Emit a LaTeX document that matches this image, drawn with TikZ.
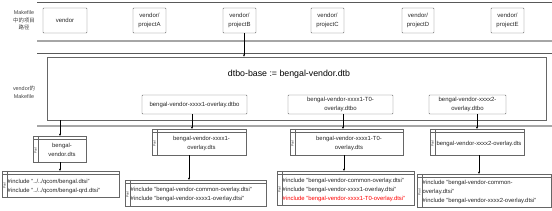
\documentclass[tikz,border=0pt]{standalone}
\usepackage{fontspec}
\setmainfont{Liberation Sans}
\newfontfamily\cjk{Noto Sans CJK SC}
\usetikzlibrary{calc,arrows.meta}
\tikzset{
  sep/.style={draw=black!65, line width=0.6pt},
  sepl/.style={draw=black!35, line width=1.2pt},
  boxn/.style={draw=black!60, line width=0.45pt, rounded corners=0.8pt, inner sep=0pt, font=\fontsize{6}{8.5}\selectfont, align=center, text=black!85},
  lanebox/.style={draw=black!60, line width=0.45pt, inner sep=0pt, anchor=north west},
  conn/.style={draw=black, line width=0.5pt, -{Triangle[length=2.2pt,width=2pt]}},
  lbl/.style={font=\fontsize{5.4}{7.5}\selectfont, align=center, text=black!75},
  txt/.style={font=\fontsize{5.9}{9}\selectfont, inner sep=0pt, text=black!85}
}
\newcommand\mkbox[6]{% name, x1, y1, x2, y2, text
  \node[boxn, minimum width={(#4-#2)*1pt}, minimum height={(#5-#3)*1pt}] (#1) at ({(#2+#4)/2},{(#3+#5)/2}) {#6};}
\newcommand\mklane[5]{% name, x1, y1, x2, y2
  \node[lanebox, minimum width={(#4-#2)*1pt}, minimum height={(#5-#3)*1pt}] (#1) at (#2,#3) {};
  \draw[black!60, line width=0.4pt] ([xshift=5pt]#1.north west) -- ([xshift=5pt]#1.south west);
  \draw[black!60, line width=0.4pt] ([yshift=-3pt]#1.north west) -- ([yshift=-3pt]#1.north east);
  \node[rotate=90, inner sep=0pt, font=\fontsize{3.2}{3.2}\selectfont, text=black!80] at ($(#1.west)+(2.5pt,-1.5pt)$) {Pool};}
\begin{document}
\begin{tikzpicture}[x=1pt,y=-1pt]
\useasboundingbox (0,0) rectangle (552,211);
% separators
\draw[sep] (37,2) coordinate (s1a) -- (552,2) coordinate (s1b);
\draw[sepl] (37,41) coordinate (s2a) -- (552,41) coordinate (s2b);
\draw[sep] (37,53) coordinate (s3a) -- (552,53) coordinate (s3b);
\draw[sepl] (37,126) coordinate (s4a) -- (552,126) coordinate (s4b);
% left labels
\node[lbl] (lab1) at (24,20.5) {Makefile\\{\cjk 中的项目}\\{\cjk 路径}};
\node[lbl] (lab2) at (24,92) {vendor{\cjk 的}\\Makefile};
% top row
\mkbox{v}{43}{8}{87}{33}{vendor}
\mkbox{pa}{133}{8}{166}{33}{vendor/\\projectA}
\mkbox{pb}{223}{8}{256}{33}{vendor/\\projectB}
\mkbox{pc}{311}{8}{344}{33}{vendor/\\projectC}
\mkbox{pd}{402}{8}{434}{33}{vendor/\\projectD}
\mkbox{pe}{491}{8}{524}{33}{vendor/\\projectE}
% big makefile box
\node[draw=black!60, line width=0.45pt, inner sep=0pt, minimum width=499pt, minimum height=63pt] (big) at (296.5,88.5) {};
\node[font=\fontsize{8.8}{10}\selectfont, inner sep=0pt] (title) at (289,74) {dtbo-base := bengal-vendor.dtb};
\mkbox{d1}{142}{95}{247}{114}{bengal-vendor-xxxx1-overlay.dtbo}
\mkbox{d2}{288}{95}{393}{114}{bengal-vendor-xxxx1-T0-\\[0.5pt]overlay.dtbo}
\mkbox{d3}{429}{95}{506}{114}{bengal-vendor-xxxx2-\\[0.5pt]overlay.dtbo}
% dts lanes
\mklane{s0}{33}{136}{86}{162}
\node[txt, align=center] (s0t) at (62,150) {bengal-\\vendor.dts};
\mklane{s1}{152}{129}{246}{155}
\node[txt, align=center] (s1t) at (201.5,143.5) {bengal-vendor-xxxx1-\\overlay.dts};
\mklane{s2}{290}{129}{403}{155}
\node[txt, align=center] (s2t) at (349,143.5) {bengal-vendor-xxxx1-T0-\\overlay.dts};
\mklane{s3}{430}{129}{524}{155}
\node[txt, align=center] (s3t) at (479,143.5) {bengal-vendor-xxxx2-overlay.dts};
% include lanes
\mklane{i0}{2}{171}{119}{197}
\node[txt, align=left, anchor=west] (i0t) at (7.5,186) {\#include "../../qcom/bengal.dtsi"\\\#include "../../qcom/bengal-qrd.dtsi"};
\mklane{i1}{125}{180}{266}{206}
\node[txt, align=left, anchor=west] (i1t) at (130.5,194) {\#include "bengal-vendor-common-overlay.dtsi"\\\#include "bengal-vendor-xxxx1-overlay.dtsi"};
\mklane{i2}{277}{171}{414}{205}
\node[txt, align=left, anchor=west] (i2t) at (282.5,190) {\#include "bengal-vendor-common-overlay.dtsi"\\\#include "bengal-vendor-xxxx1-overlay.dtsi"\\\textcolor{red}{\#include "bengal-vendor-xxxx1-T0-overlay.dtsi"}};
\mklane{i3}{417}{174}{551}{207}
\node[txt, align=left, anchor=west] (i3t) at (422.5,192) {\#include "bengal-vendor-common-\\overlay.dtsi"\\\#include "bengal-vendor-xxxx2-overlay.dtsi"};
% connectors
\draw[conn] ([xshift=4.5pt]pb.south) -- ([xshift=4.5pt]pb.south |- big.north);
\draw[conn] (big.south -| 60,0) -- (s0.north -| 60,0);
\draw[conn] (d1.south -| 192,0) -- (s1.north -| 192,0);
\draw[conn] (d2.south -| 343,0) -- (s2.north -| 343,0);
\draw[conn] (d3.south -| 477,0) -- (s3.north -| 477,0);
\draw[conn] (s0.south -| 60,0) -- (i0.north -| 60,0);
\draw[conn] (s1.south -| 189,0) -- (i1.north -| 189,0);
\draw[conn] (s2.south -| 344,0) -- (i2.north -| 344,0);
\draw[conn] (s3.south -| 479,0) -- (i3.north -| 479,0);
\end{tikzpicture}
\end{document}
